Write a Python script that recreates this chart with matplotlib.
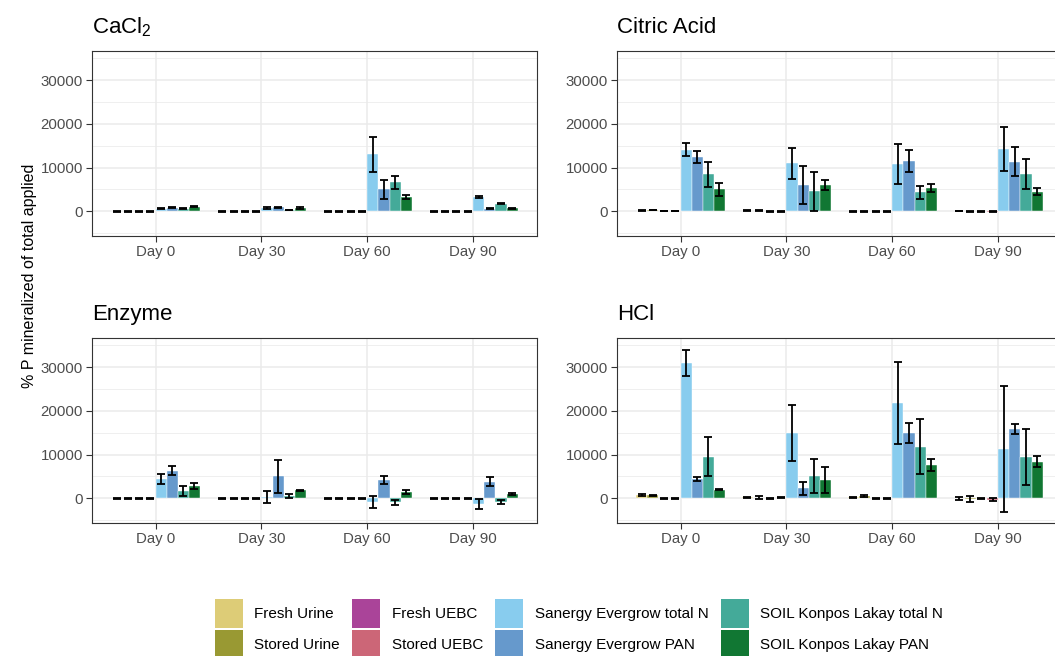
import matplotlib.pyplot as plt
import numpy as np
from matplotlib.patches import Patch

plt.rcParams['font.family'] = ['Liberation Sans', 'DejaVu Sans']
plt.rcParams['mathtext.fontset'] = 'custom'
plt.rcParams['mathtext.rm'] = 'Liberation Sans'

days = ['Day 0', 'Day 30', 'Day 60', 'Day 90']
treatments = ['Fresh Urine', 'Stored Urine', 'Fresh UEBC', 'Stored UEBC',
              'Sanergy Evergrow total N', 'Sanergy Evergrow PAN',
              'SOIL Konpos Lakay total N', 'SOIL Konpos Lakay PAN']
colors = ['#DDCC77', '#999933', '#AA4499', '#CC6677',
          '#88CCEE', '#6699CC', '#44AA99', '#117733']

# rows = days, columns = treatments (same order as above)
cacl2_mean = [[0, 0, 0, 0, 600, 850, 600, 1080],
              [0, 0, 0, 0, 770, 900, 300, 770],
              [0, 0, 0, 0, 13100, 5000, 6600, 3300],
              [0, 0, 0, 0, 3300, 600, 1750, 700]]
cacl2_sd = [[60, 60, 60, 60, 150, 150, 150, 150],
            [60, 60, 60, 60, 150, 200, 100, 150],
            [60, 60, 60, 60, 4000, 2100, 1400, 400],
            [60, 60, 60, 60, 200, 150, 150, 150]]

citric_mean = [[150, 300, 50, 50, 14100, 12400, 8500, 5000],
               [100, 100, 0, 0, 11000, 6000, 4600, 6000],
               [0, 50, 0, 0, 10800, 11600, 4400, 5300],
               [50, 50, 0, -50, 14300, 11400, 8500, 4500]]
citric_sd = [[100, 100, 80, 80, 1500, 1450, 2900, 1550],
             [100, 100, 80, 80, 3550, 4300, 4500, 1080],
             [80, 100, 80, 80, 4550, 2500, 1500, 850],
             [80, 100, 80, 80, 5100, 3250, 3450, 770]]

enzyme_mean = [[0, 0, 0, 0, 4400, 6300, 1700, 2900],
               [0, 0, 0, 0, 300, 5000, 530, 1800],
               [0, 0, 0, 0, -850, 4200, -900, 1400],
               [0, 0, 0, 0, -1400, 3800, -750, 1000]]
enzyme_sd = [[60, 60, 60, 60, 1200, 1000, 1100, 700],
             [60, 60, 60, 60, 1400, 3700, 450, 200],
             [60, 60, 60, 60, 1400, 850, 600, 400],
             [60, 60, 60, 60, 1150, 1000, 450, 250]]

hcl_mean = [[750, 650, 0, 0, 31000, 4400, 9500, 2000],
            [250, 150, 0, 100, 15000, 2300, 5200, 4200],
            [200, 500, 0, 0, 21800, 14900, 11800, 7600],
            [0, -200, 0, -300, 11300, 15900, 9500, 8400]]
hcl_sd = [[250, 150, 60, 60, 2900, 500, 4500, 200],
          [150, 300, 60, 100, 6400, 1450, 3900, 3000],
          [150, 300, 60, 60, 9300, 2300, 6300, 1350],
          [400, 700, 150, 300, 14500, 1150, 6450, 1250]]

panel_titles = ['CaCl$_\\mathregular{2}$', 'Citric Acid', 'Enzyme', 'HCl']
panel_means = [cacl2_mean, citric_mean, enzyme_mean, hcl_mean]
panel_sds = [cacl2_sd, citric_sd, enzyme_sd, hcl_sd]

W, H = 1055, 656
fig = plt.figure(figsize=(W / 100, H / 100), dpi=100)

aw, ah = 444.7 / W, 185 / H
lefts = [92 / W, 617 / W]
bottoms = [1 - 236 / H, 1 - 523 / H]
positions = [(lefts[0], bottoms[0]), (lefts[1], bottoms[0]),
             (lefts[0], bottoms[1]), (lefts[1], bottoms[1])]

x = np.arange(len(days)) + 1
n = len(treatments)
bw = 0.84 / n

for (l, b), title, mean, sd in zip(positions, panel_titles, panel_means, panel_sds):
    ax = fig.add_axes([l, b, aw, ah])
    mean = np.array(mean)
    sd = np.array(sd)
    for j in range(n):
        xs = x + (j - (n - 1) / 2) * bw
        ax.bar(xs, mean[:, j], bw, color=colors[j], edgecolor='white',
               linewidth=0.3, zorder=2)
        ax.errorbar(xs, mean[:, j], yerr=sd[:, j], fmt='none', ecolor='black',
                    elinewidth=1.3, capsize=3.2, capthick=1.3, zorder=3)

    ax.set_xlim(0.4, 4.6)
    ax.set_ylim(-5650, 36700)
    ax.set_xticks(x)
    ax.set_xticklabels(days)
    ax.set_yticks([0, 10000, 20000, 30000])
    ax.set_yticklabels(['0', '10000', '20000', '30000'])
    ax.set_yticks([-5000, 5000, 15000, 25000, 35000], minor=True)
    ax.set_axisbelow(True)
    ax.grid(which='major', color='#EBEBEB', linewidth=1.1)
    ax.grid(which='minor', axis='y', color='#EBEBEB', linewidth=0.55)
    ax.tick_params(which='minor', length=0)
    ax.tick_params(which='major', length=4, width=0.8, color='#333333',
                   labelcolor='#4D4D4D', labelsize=10.8, pad=2.5)
    for s in ax.spines.values():
        s.set_color('#333333')
        s.set_linewidth(0.8)
    ax.set_title(title, loc='left', fontsize=16, pad=13)

fig.text(30 / W, 1 - 276 / H, '% P mineralized of total applied',
         rotation=90, ha='center', va='center', fontsize=11.5)

handles = [Patch(facecolor=c, edgecolor='none') for c in colors]
fig.legend(handles, treatments, ncol=4, loc='upper left',
           bbox_to_anchor=(215 / W, 1 - 599 / H), frameon=False, fontsize=11,
           handlelength=1.83, handleheight=2.55, handletextpad=0.75,
           columnspacing=0.8, labelspacing=0.1, borderpad=0, borderaxespad=0)

fig.savefig('out.png', dpi=100)
